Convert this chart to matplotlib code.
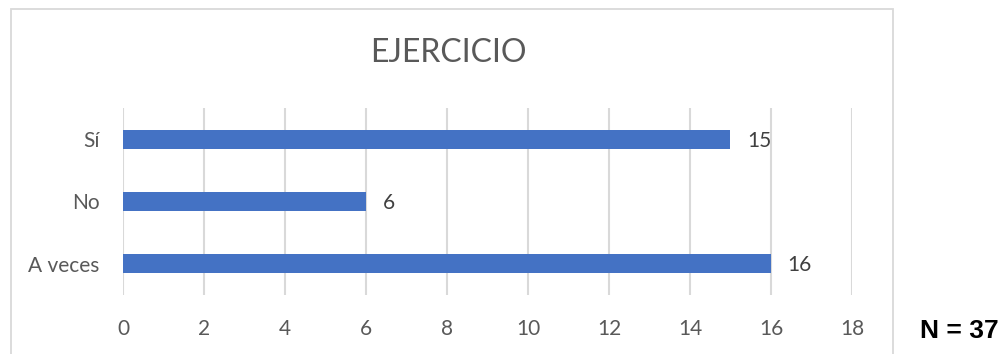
import matplotlib.pyplot as plt
from matplotlib.patches import Rectangle

categories = ['A veces', 'No', 'Sí']
values = [16, 6, 15]
x_ticks = [0, 2, 4, 6, 8, 10, 12, 14, 16, 18]
title = 'EJERCICIO'
note = 'N = 37'

bar_color = '#4472C4'
grid_color = '#D9D9D9'
text_color = '#595959'

plt.rcParams['font.family'] = ['Lato', 'DejaVu Sans']

fig = plt.figure(figsize=(10.04, 3.54), dpi=100)

# chart frame
fig.patches.append(Rectangle((0.0105, -0.05), 0.879, 1.025, transform=fig.transFigure,
                             fill=False, edgecolor=grid_color, linewidth=1.3))

ax = fig.add_axes([0.1225, 0.1667, 0.7261, 0.5282])
y = range(len(categories))
bars = ax.barh(y, values, height=0.31, color=bar_color, zorder=3)

ax.set_xlim(0, 18)
ax.set_ylim(-0.5, 2.5)
ax.set_xticks(x_ticks)
ax.set_yticks(list(y))
ax.set_yticklabels(categories)
ax.grid(axis='x', color=grid_color, linewidth=1.5, zorder=0)
for s in ax.spines.values():
    s.set_visible(False)
ax.tick_params(axis='both', length=0, labelsize=15, labelcolor=text_color)
ax.tick_params(axis='x', pad=17)
ax.tick_params(axis='y', pad=17)

for b, v in zip(bars, values):
    ax.annotate(str(v), (v, b.get_y() + b.get_height() / 2), xytext=(12, -1),
                textcoords='offset points', va='center', ha='left',
                fontsize=15, color='#404040')

fig.text(0.447, 0.85, title, ha='center', va='center', fontsize=23, color=text_color)
fig.text(0.955, 0.065, note, ha='center', va='center', fontsize=19, fontweight='bold',
         family='Liberation Sans', color='black')

fig.savefig('out.png', dpi=100)
